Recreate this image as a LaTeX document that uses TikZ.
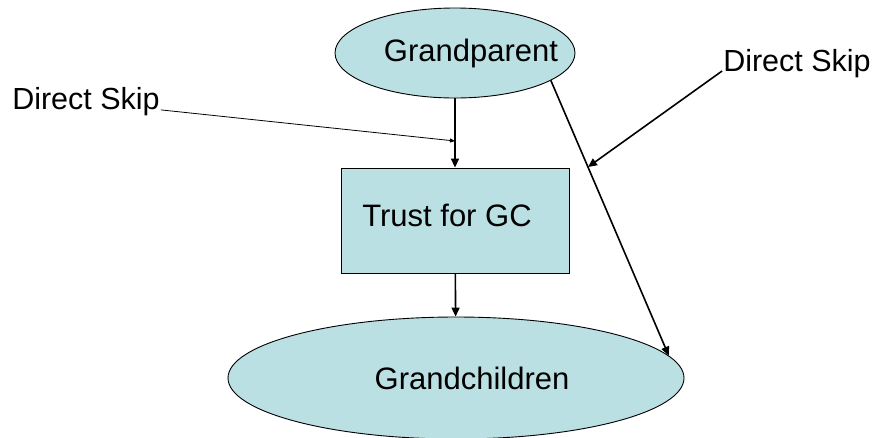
\documentclass[tikz,border=0pt]{standalone}
\usepackage{fontspec}
\setmainfont{Liberation Sans}
\usetikzlibrary{arrows.meta, positioning, shapes.geometric}
\definecolor{paleblue}{RGB}{187,224,227}
% text sits a little off the centre of its shape
\newcommand{\nudge}[3]{\raisebox{#2}{\makebox[0pt]{\hspace*{#1}#3}}}
\tikzset{
  person/.style={draw, ellipse, fill=paleblue, inner sep=0pt, line width=0.9pt,
    font=\fontsize{31}{36}\selectfont},
  trustbox/.style={draw, rectangle, fill=paleblue, line width=0.9pt, inner sep=0pt,
    minimum width=228pt, minimum height=105pt, font=\fontsize{31}{36}\selectfont},
  note/.style={inner sep=1pt, font=\fontsize{30.5}{35}\selectfont},
  arrow/.style={-{Triangle[length=9pt, width=8pt]}, line width=1.6pt},
  thinarrow/.style={-{Triangle[length=5pt, width=4pt]}, line width=0.8pt}
}

\begin{document}
\begin{tikzpicture}[x=1pt, y=-1pt]
  \useasboundingbox (0,0) rectangle (880,437);
  \node[person, minimum width=240pt, minimum height=90pt] (gp) at (455,53) {\nudge{32pt}{0pt}{Grandparent}};
  \node[trustbox] (trust) at (455,220.5) {\nudge{-16pt}{10pt}{Trust for GC}};
  \node[person, minimum width=456pt, minimum height=122pt] (gc) at (456,378) {\nudge{32pt}{-3pt}{Grandchildren}};
  \node[note] (skipL) at (86,102) {Direct Skip};
  \node[note] (skipR) at (797,64) {Direct Skip};
  \coordinate (hitL) at (455,141);
  \coordinate (hitR) at (588,167);
  \draw[arrow] (gp) -- (trust);
  \draw[arrow] (trust) -- (gc);
  \draw[arrow] (gp.-16) -- (gc.6);
  \draw[thinarrow] (skipL.base east) -- (hitL);
  \draw[arrow] ([yshift=-7pt]skipR.west) -- (hitR);
\end{tikzpicture}
\end{document}
